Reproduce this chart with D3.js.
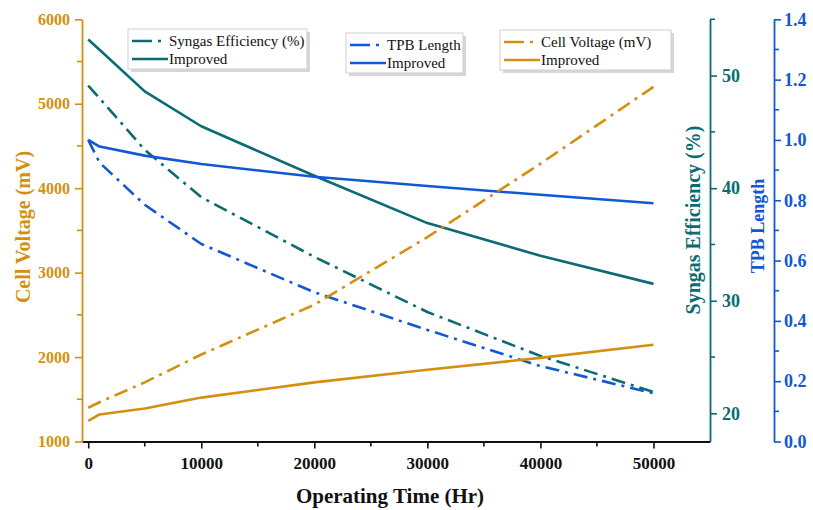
<!DOCTYPE html>
<html><head><meta charset="utf-8">
<script src="https://cdn.jsdelivr.net/npm/d3@7"></script>
<style>body{margin:0;background:#fff} svg{display:block} text{font-family:"Liberation Serif","Times New Roman",serif}</style>
</head><body>
<svg id="c" width="813" height="510"></svg>
<script>
// ---- data ----
const hours = [0, 1000, 5000, 10000, 20000, 30000, 40000, 50000];
const syngasBase = [49.1, 48.0, 43.4, 39.2, 33.9, 29.0, 25.1, 21.9];
const syngasImproved = [53.2, 52.3, 48.6, 45.5, 41.1, 36.9, 34.0, 31.5];
const tpbBase = [1.0, 0.925, 0.785, 0.655, 0.495, 0.37, 0.25, 0.16];
const tpbImproved = [1.0, 0.978, 0.948, 0.92, 0.878, 0.847, 0.818, 0.79];
const voltBase = [1400, 1465, 1700, 2030, 2620, 3420, 4290, 5200];
const voltImproved = [1245, 1320, 1390, 1520, 1700, 1850, 1990, 2145];

const xTicks = [0, 10000, 20000, 30000, 40000, 50000];
const xMinor = [5000, 15000, 25000, 35000, 45000];
const vTicks = [1000, 2000, 3000, 4000, 5000, 6000];
const vMinor = [1500, 2500, 3500, 4500, 5500];
const sTicks = [20, 30, 40, 50];
const sMinor = [25, 35, 45, 55];
const tTicks = [0, 0.2, 0.4, 0.6, 0.8, 1.0, 1.2, 1.4];
const tMinor = [0.1, 0.3, 0.5, 0.7, 0.9, 1.1, 1.3];

const C_TEAL = "#0b6b72", C_BLUE = "#1158d4", C_ORANGE = "#d58f0e";

// ---- layout ----
const svg = d3.select("#c");
const L = 82, R = 710, T = 19.3, B = 441.5, R2 = 774;
const x = d3.scaleLinear([-550, 55000], [L, R]);
const yV = d3.scaleLinear([1000, 6000], [B, T]);
const yS = d3.scaleLinear([17.5, 55], [B, T]);
const yT = d3.scaleLinear([0, 1.4], [B, T]);

function styleAxis(g, color, fs) {
  g.select(".domain").attr("stroke", color).attr("stroke-width", 1.8);
  g.selectAll(".tick line").attr("stroke", color).attr("stroke-width", 1.6);
  g.selectAll(".tick text").attr("fill", color).attr("font-size", fs).attr("font-weight", "bold")
    .attr("font-family", '"Liberation Serif","Times New Roman",serif');
}

function minor(g, vals, scale, orient, color, len) {
  g.selectAll(null).data(vals).join("line")
    .attr("stroke", color).attr("stroke-width", 1.6)
    .each(function(d) {
      const s = d3.select(this);
      if (orient === "bottom") s.attr("x1", scale(d)).attr("x2", scale(d)).attr("y1", 0).attr("y2", len);
      else if (orient === "left") s.attr("y1", scale(d)).attr("y2", scale(d)).attr("x1", 0).attr("x2", -len);
      else s.attr("y1", scale(d)).attr("y2", scale(d)).attr("x1", 0).attr("x2", len);
    });
}

// bottom axis
const gx = svg.append("g").attr("transform", `translate(0,${B})`)
  .call(d3.axisBottom(x).tickValues(xTicks).tickFormat(d3.format("d")).tickSize(7).tickSizeOuter(0).tickPadding(8));
styleAxis(gx, "#111", "17px");
minor(gx, xMinor, x, "bottom", "#111", 5);

// left axis
const gl = svg.append("g").attr("transform", `translate(${L},0)`)
  .call(d3.axisLeft(yV).tickValues(vTicks).tickFormat(d3.format("d")).tickSize(7).tickSizeOuter(0).tickPadding(5));
styleAxis(gl, C_ORANGE, "16px");
minor(gl, vMinor, yV, "left", C_ORANGE, 5);

// syngas axis
const gs = svg.append("g").attr("transform", `translate(${R},0)`)
  .call(d3.axisRight(yS).tickValues(sTicks).tickFormat(d3.format("d")).tickSize(7).tickSizeOuter(0).tickPadding(5));
styleAxis(gs, C_TEAL, "18px");
minor(gs, sMinor, yS, "right", C_TEAL, 5);

// tpb axis
const gt = svg.append("g").attr("transform", `translate(${R2},0)`)
  .call(d3.axisRight(yT).tickValues(tTicks).tickFormat(d3.format(".1f")).tickSize(7).tickSizeOuter(0).tickPadding(3));
styleAxis(gt, C_BLUE, "18px");
minor(gt, tMinor, yT, "right", C_BLUE, 5);

// axis titles
svg.append("text").attr("transform", `translate(30,227) rotate(-90)`)
  .attr("text-anchor", "middle").attr("font-weight", "bold").attr("font-size", "20px").attr("fill", C_ORANGE)
  .text("Cell Voltage (mV)");
svg.append("text").attr("transform", `translate(700,220) rotate(-90)`)
  .attr("text-anchor", "middle").attr("font-weight", "bold").attr("font-size", "20px").attr("fill", C_TEAL)
  .text("Syngas Efficiency (%)");
svg.append("text").attr("transform", `translate(764,226) rotate(-90)`)
  .attr("text-anchor", "middle").attr("font-weight", "bold").attr("font-size", "18px").attr("fill", C_BLUE)
  .text("TPB Length");
svg.append("text").attr("x", (L+R)/2 - 6).attr("y", 503)
  .attr("text-anchor", "middle").attr("font-weight", "bold").attr("font-size", "21px").attr("fill", "#111")
  .text("Operating Time (Hr)");

// lines
const DASH = "14,6,3,6";
const series = [
  {vals: syngasBase, y: yS, color: C_TEAL, dash: DASH},
  {vals: syngasImproved, y: yS, color: C_TEAL, dash: null},
  {vals: tpbBase, y: yT, color: C_BLUE, dash: DASH},
  {vals: tpbImproved, y: yT, color: C_BLUE, dash: null},
  {vals: voltBase, y: yV, color: C_ORANGE, dash: DASH},
  {vals: voltImproved, y: yV, color: C_ORANGE, dash: null},
];
series.forEach(s => {
  const line = d3.line().x((d, i) => x(hours[i])).y(d => s.y(d));
  svg.append("path").datum(s.vals).attr("d", line)
    .attr("fill", "none").attr("stroke", s.color).attr("stroke-width", 2.6)
    .attr("stroke-linejoin", "round")
    .attr("stroke-dasharray", s.dash);
});

// legends
const legends = [
  {x: 128, y: 29, w: 179, h: 40, color: C_TEAL, labels: ["Syngas Efficiency (%)", "Improved"]},
  {x: 346, y: 33, w: 117, h: 40, color: C_BLUE, labels: ["TPB Length", "Improved"]},
  {x: 500, y: 30, w: 171, h: 40, color: C_ORANGE, labels: ["Cell Voltage (mV)", "Improved"]},
];
legends.forEach(lg => {
  const g = svg.append("g").attr("transform", `translate(${lg.x},${lg.y})`);
  g.append("rect").attr("x", 3).attr("y", 3).attr("width", lg.w).attr("height", lg.h).attr("fill", "#d6d6d6");
  g.append("rect").attr("width", lg.w).attr("height", lg.h).attr("fill", "#fff").attr("stroke", "#cfcfcf").attr("stroke-width", 1);
  g.append("line").attr("x1", 4).attr("x2", 40).attr("y1", 12).attr("y2", 12)
    .attr("stroke", lg.color).attr("stroke-width", 2.6).attr("stroke-dasharray", "20,6,3,20");
  g.append("line").attr("x1", 4).attr("x2", 40).attr("y1", 30).attr("y2", 30)
    .attr("stroke", lg.color).attr("stroke-width", 2.6);
  g.append("text").attr("x", 41).attr("y", 17).attr("font-size", "15px").attr("fill", "#111").text(lg.labels[0]);
  g.append("text").attr("x", 41).attr("y", 35).attr("font-size", "15px").attr("fill", "#111").text(lg.labels[1]);
});
</script>
</body></html>
